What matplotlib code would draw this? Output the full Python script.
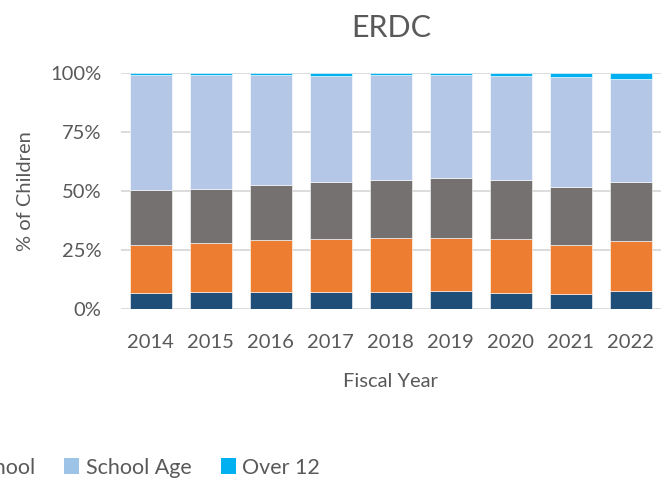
import numpy as np
import matplotlib
matplotlib.use('Agg')
import matplotlib.pyplot as plt
from matplotlib.patches import Patch
from matplotlib.ticker import PercentFormatter

plt.rcParams['font.family'] = ['Lato', 'DejaVu Sans']

years = ["2014", "2015", "2016", "2017", "2018", "2019", "2020", "2021", "2022"]
infant = [6.9, 7.3, 7.3, 7.3, 7.3, 7.8, 6.9, 6.4, 7.8]
toddler = [20.2, 20.8, 21.9, 22.4, 22.7, 22.2, 22.6, 20.7, 21.0]
preschool = [23.3, 22.7, 23.3, 24.2, 24.7, 25.5, 25.2, 24.6, 25.1]
school_age = [48.7, 48.1, 46.4, 44.8, 44.5, 43.4, 43.9, 46.5, 43.4]
over_12 = [0.9, 1.1, 1.1, 1.3, 0.8, 1.1, 1.4, 1.8, 2.7]

groups = ["Infant", "Toddler", "Preschool", "School Age", "Over 12"]
series = [infant, toddler, preschool, school_age, over_12]
colors = ["#1F4E79", "#ED7D31", "#767171", "#B4C7E7", "#00B0F0"]
legend_colors = ["#1F4E79", "#ED7D31", "#767171", "#9DC3E6", "#00B0F0"]

text_color = "#595959"

fig = plt.figure(figsize=(6.68, 4.82), dpi=100)
ax = fig.add_axes([0.181, 0.359, 0.808, 0.490])

x = np.arange(len(years))
bottom = np.zeros(len(years))
for vals, col in zip(series, colors):
    vals = np.array(vals)
    ax.bar(x, vals, 0.7, bottom=bottom, color=col, edgecolor="white",
           linewidth=0.4, zorder=3)
    bottom += vals

ax.set_xlim(-0.5, len(years) - 0.5)
ax.set_ylim(0, 100)
ax.set_yticks([0, 25, 50, 75, 100])
ax.yaxis.set_major_formatter(PercentFormatter(decimals=0))
ax.set_xticks(x)
ax.set_xticklabels(years)
ax.grid(axis="y", color="#D9D9D9", linewidth=1.3, zorder=0)
for s in ax.spines.values():
    s.set_visible(False)
ax.tick_params(length=0, labelsize=14.5, colors=text_color)
ax.tick_params(axis="x", pad=18)
ax.tick_params(axis="y", pad=14)

ax.set_title("ERDC", fontsize=22, color=text_color, pad=26)
ax.set_xlabel("Fiscal Year", fontsize=14.5, color=text_color, labelpad=16)
ax.set_ylabel("% of Children", fontsize=14.5, color=text_color, labelpad=12)

handles = [Patch(facecolor=c, edgecolor="none") for c in legend_colors]
fig.legend(handles, groups, loc="center right", bbox_to_anchor=(0.508, 0.03),
           ncol=5, frameon=False, fontsize=15.5, labelcolor=text_color,
           handlelength=0.7, handleheight=0.7, handletextpad=0.3,
           columnspacing=1.35)

fig.savefig("out.png", dpi=100)
